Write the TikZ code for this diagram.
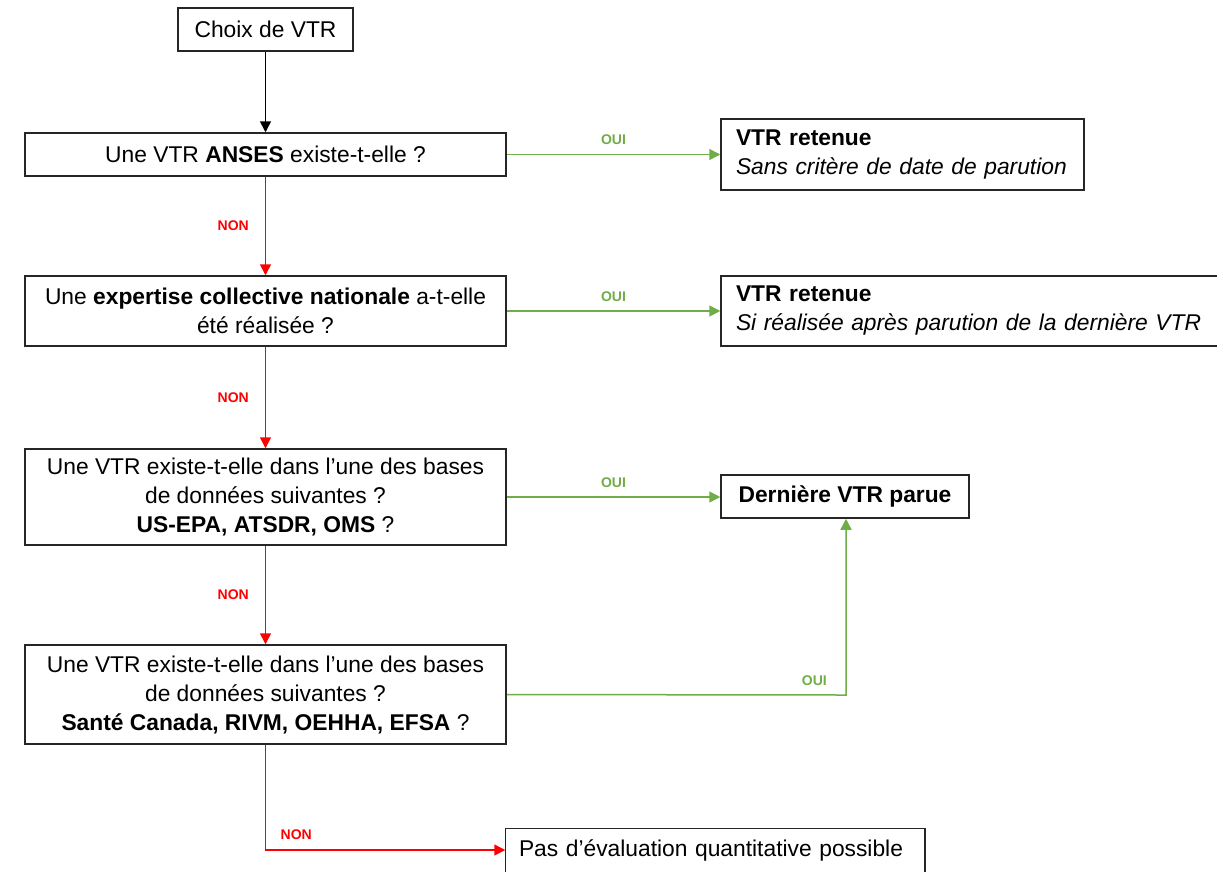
\documentclass[tikz,border=0pt]{standalone}
\usepackage{fontspec}
\setmainfont{Liberation Sans}
\usetikzlibrary{arrows.meta,calc}
\definecolor{oui}{HTML}{70AD47}
\definecolor{non}{HTML}{FF0000}
\definecolor{boxline}{HTML}{262626}
\begin{document}
\begin{tikzpicture}[x=1pt,y=-1pt,
  box/.style={draw=boxline, line width=1.5pt, rectangle, inner sep=0pt,
    font=\fontsize{22.8}{29}\selectfont, align=center},
  arr/.style={line width=1.5pt, -{Triangle[length=11pt,width=11pt]}},
  ouiarr/.style={arr, draw=oui, color=oui},
  nonarr/.style={arr, draw=non, color=non},
  lab/.style={font=\fontsize{14}{16}\bfseries\selectfont, inner sep=0pt}
]
\useasboundingbox (0,0) rectangle (1217,871);
\clip (0,0) rectangle (1217,871);
\fill[white] (0,0) rectangle (1217,871);

\node[box, minimum width=175pt, minimum height=43pt] (choix) at (265.5,29.5) {Choix de VTR};
\node[box, minimum width=481pt, minimum height=43pt] (anses) at (265.5,154.5) {Une VTR \textbf{ANSES} existe-t-elle ?};
\node[box, minimum width=481pt, minimum height=70pt] (expert) at (265.5,311) {Une \textbf{expertise collective nationale} a-t-elle\\été réalisée ?};
\node[box, minimum width=481pt, minimum height=96pt] (usepa) at (265.5,497) {Une VTR existe-t-elle dans l’une des bases\\de données suivantes ?\\\textbf{US-EPA, ATSDR, OMS} ?};
\node[box, minimum width=481pt, minimum height=99pt] (sante) at (265.5,694.5) {Une VTR existe-t-elle dans l’une des bases\\de données suivantes ?\\\textbf{Santé Canada, RIVM, OEHHA, EFSA} ?};

\node[box, align=left, minimum width=363pt, minimum height=71pt, text width=333pt] (r1) at (902.5,154.5) {\textbf{VTR retenue}\\\textit{Sans critère de date de parution}};
\node[box, align=left, minimum width=520pt, minimum height=70pt, text width=490pt] (r2) at (981,311) {\textbf{VTR retenue}\\\textit{Si réalisée après parution de la dernière VTR}};
\node[box, minimum width=248pt, minimum height=43pt] (dern) at (845,496.5) {\textbf{Dernière VTR parue}};
\node[box, draw=none, align=left, minimum width=418pt, minimum height=42pt, text width=392pt] (pas) at (715,850) {Pas d’évaluation quantitative possible};
\draw[draw=boxline, line width=1.5pt] ($(pas.south west)+(0,15)$) |- (pas.north east) -- ++(0,57);

\draw[arr, draw=black] (choix) -- (anses);
\draw[nonarr] (anses) -- node[lab, pos=0.5, left=16pt, text=non]{NON} (expert);
\draw[nonarr] (expert) -- node[lab, pos=0.5, left=16pt, text=non]{NON} (usepa);
\draw[nonarr] (usepa) -- node[lab, pos=0.5, left=16pt, text=non]{NON} (sante);
\coordinate (corner) at (sante.south |- pas.west);
\node[lab, text=non, anchor=south west] (nonlab) at ($(corner)+(15,-10)$) {NON};
\draw[nonarr] (sante.south) -- (corner) -- (pas.west);

\draw[ouiarr] (anses.east) -- node[lab, above=9pt, text=oui]{OUI} (anses.east -| r1.west);
\draw[ouiarr] (expert.east) -- node[lab, above=9pt, text=oui]{OUI} (expert.east -| r2.west);
\draw[ouiarr] (usepa.east) -- node[lab, above=9pt, text=oui]{OUI} (usepa.east -| dern.west);
\coordinate (bend) at (846,695);
\node[lab, text=oui, anchor=south east] (ouilab) at ($(bend)+(-19,-9)$) {OUI};
\draw[ouiarr] (sante.east) -- (bend) -- (bend |- dern.south);
\end{tikzpicture}
\end{document}
